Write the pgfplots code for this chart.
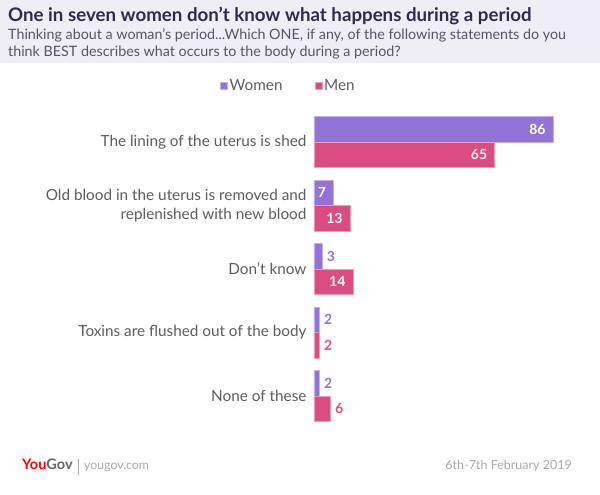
\documentclass[border=0pt]{standalone}
\usepackage{pgfplots}
\pgfplotsset{compat=1.18}
\usepackage{fontspec}
\setmainfont{Lato}
\definecolor{women}{HTML}{9373D8}
\definecolor{men}{HTML}{DC4C81}
\definecolor{titlec}{HTML}{2E2B4A}
\definecolor{subc}{HTML}{555566}
\definecolor{catc}{HTML}{5C5C5C}
\definecolor{headbg}{HTML}{EFEDF5}
\definecolor{footc}{HTML}{A8A8A8}

\begin{document}
\begin{tikzpicture}[x=1pt,y=1pt]
\path[use as bounding box] (0,0) rectangle (600,495);
\fill[headbg] (0,432) rectangle (600,495);
\node[anchor=base west,inner sep=0,text=titlec] at (8,473)
  {\fontsize{18.7}{20}\selectfont\bfseries One in seven women don't know what happens during a period};
\node[anchor=base west,inner sep=0,text=subc] at (8,455)
  {\fontsize{14.3}{16}\selectfont Thinking about a woman's period...Which ONE, if any, of the following statements do you};
\node[anchor=base west,inner sep=0,text=subc] at (8,438)
  {\fontsize{14.3}{16}\selectfont think BEST describes what occurs to the body during a period?};

\begin{axis}[
  at={(314pt,67.25pt)}, anchor=south west,
  scale only axis, width=278pt, height=317.5pt,
  xmin=0, xmax=100, ymin=-0.5, ymax=4.5,
  y dir=reverse,
  axis line style={draw=none},
  xtick=\empty,
  ytick={0,1,2,3,4},
  yticklabels={The lining of the uterus is shed,
    {Old blood in the uterus is removed and\\replenished with new blood},
    Don't know, Toxins are flushed out of the body, None of these},
  major tick length=0pt,
  yticklabel style={align=right, text=catc, font=\fontsize{15.3}{19}\selectfont, xshift=-4pt},
  clip=false,
  /pgf/number format/assume math mode=true,
  legend columns=2,
  legend style={at={(-0.092,1.0764)}, anchor=center, draw=none, fill=none,
    font=\fontsize{15.3}{17}\selectfont, text=catc,
    /tikz/every even column/.append style={column sep=30pt}},
  legend image code/.code={\fill[#1] (1pt,-3.5pt) rectangle (8pt,3.5pt);},
]
% Women
\addplot[xbar, bar width=25.5pt, bar shift=12.75pt, fill=women, draw=women!55!white, line width=0.6pt]
  coordinates {(86,0) (7,1) (3,2) (2,3) (2,4)};
\addlegendentry{Women}
% Men
\addplot[xbar, bar width=25.5pt, bar shift=-12.75pt, fill=men, draw=men!55!white, line width=0.6pt]
  coordinates {(65,0) (13,1) (14,2) (2,3) (6,4)};
\addlegendentry{Men}
% labels inside bars
\addplot[xbar, bar width=25.5pt, draw=none, fill=none, forget plot,
  nodes near coords, nodes near coords style={anchor=east, text=white, xshift=-4pt, yshift=12.75pt,
  font=\fontsize{14}{15}\selectfont\bfseries}]
  coordinates {(86,0) (7,1)};
\addplot[xbar, bar width=25.5pt, draw=none, fill=none, forget plot,
  nodes near coords, nodes near coords style={anchor=east, text=white, xshift=-4pt, yshift=-12.75pt,
  font=\fontsize{14}{15}\selectfont\bfseries}]
  coordinates {(65,0) (13,1) (14,2)};
% labels beside bars
\addplot[xbar, bar width=25.5pt, draw=none, fill=none, forget plot,
  nodes near coords, nodes near coords style={anchor=west, text=women, xshift=1pt, yshift=12.75pt,
  font=\fontsize{14}{15}\selectfont\bfseries}]
  coordinates {(3,2) (2,3) (2,4)};
\addplot[xbar, bar width=25.5pt, draw=none, fill=none, forget plot,
  nodes near coords, nodes near coords style={anchor=west, text=men, xshift=1pt, yshift=-12.75pt,
  font=\fontsize{14}{15}\selectfont\bfseries}]
  coordinates {(2,3) (6,4)};
\end{axis}

% footer
\node[anchor=base west,inner sep=0,text=red] at (22,25)
  {\fontsize{14.5}{16}\selectfont\bfseries You\textcolor{footc!60!black}{Gov}};
\draw[footc,line width=0.6pt] (78,20) -- (78,36);
\node[anchor=base west,inner sep=0,text=footc] at (84,25)
  {\fontsize{12.3}{14}\selectfont yougov.com};
\node[anchor=base east,inner sep=0,text=footc] at (572,25)
  {\fontsize{12.5}{14}\selectfont 6th-7th February 2019};
\end{tikzpicture}
\end{document}
